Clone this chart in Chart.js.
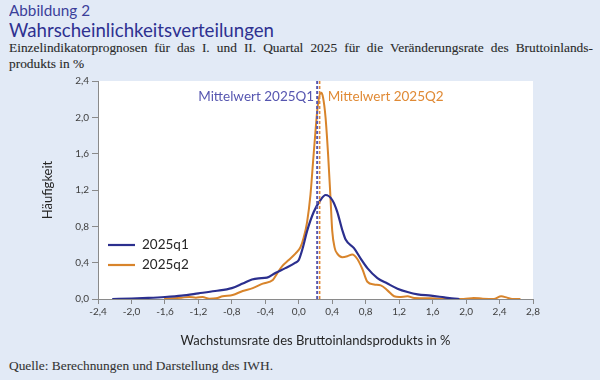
<!DOCTYPE html>
<html>
<head>
<meta charset="utf-8">
<script src="https://cdn.jsdelivr.net/npm/chart.js@4.4.1/dist/chart.umd.min.js"></script>
<style>
  html, body { margin:0; padding:0; width:600px; height:380px; background:#e2eaf6; overflow:hidden; }
  #wrap { position:relative; width:600px; height:380px; }
  .t { position:absolute; white-space:nowrap; line-height:1; transform-origin:0 0; }
  #abb { left:9px; top:1.5px; font:14.5px "Lato"; color:#3b3f9a; }
  #ttl { left:9px; top:16.6px; font:20px "Lato"; color:#2e3191; }
  #sub1 { left:9px; top:40px; width:584px; font:13.4px "Liberation Serif"; color:#2a2a2a; text-align:justify; text-align-last:justify; white-space:normal; -webkit-text-stroke:0.12px #2a2a2a; }
  #sub2 { left:9px; top:56px; font:13.4px "Liberation Serif"; color:#2a2a2a; -webkit-text-stroke:0.12px #2a2a2a; }
  #src { left:9px; top:358px; font:13.4px "Liberation Serif"; color:#333; -webkit-text-stroke:0.08px #333; }
  canvas { position:absolute; left:0; top:0; }
</style>
</head>
<body>
<div id="wrap">
  <div class="t" id="abb" data-w="81">Abbildung 2</div>
  <div class="t" id="ttl" data-w="265">Wahrscheinlichkeitsverteilungen</div>
  <div class="t" id="sub1">Einzelindikatorprognosen für das I. und II. Quartal 2025 für die Veränderungsrate des Bruttoinlands-</div>
  <div class="t" id="sub2">produkts in %</div>
  <div class="t" id="src" data-w="264">Quelle: Berechnungen und Darstellung des IWH.</div>
  <canvas id="c" width="600" height="380"></canvas>
</div>
<script>
// ---- data ----
const q1X = [-2.23,-2.0,-1.8,-1.6,-1.4,-1.2,-1.0,-0.8,-0.67,-0.56,-0.48,-0.38,-0.28,-0.16,-0.04,0.0,0.05,0.1,0.18,0.26,0.32,0.4,0.46,0.52,0.56,0.66,0.74,0.82,0.94,1.06,1.18,1.3,1.42,1.58,1.74,1.86,1.92];
const q1Y = [0,0.005,0.012,0.022,0.037,0.062,0.088,0.12,0.17,0.215,0.228,0.235,0.287,0.34,0.40,0.43,0.57,0.75,0.96,1.09,1.145,1.09,0.96,0.76,0.655,0.56,0.445,0.34,0.23,0.17,0.114,0.077,0.051,0.037,0.018,0.004,0];
const q2X = [-1.61,-1.4,-1.31,-1.23,-1.15,-1.07,-0.99,-0.91,-0.79,-0.67,-0.55,-0.43,-0.31,-0.26,-0.2,-0.12,-0.04,0.02,0.06,0.1,0.14,0.17,0.2,0.23,0.268,0.29,0.32,0.35,0.38,0.4,0.43,0.46,0.52,0.58,0.64,0.7,0.76,0.82,0.9,0.98,1.06,1.14,1.2,1.3,1.38,1.58,1.78,1.97,2.09,2.2,2.33,2.42,2.49,2.55,2.65];
const q2Y = [0,0.015,0.022,0.015,0.022,0.004,0.007,0.03,0.044,0.088,0.12,0.17,0.21,0.28,0.36,0.43,0.50,0.57,0.68,0.85,1.15,1.5,1.85,2.15,2.27,2.22,2.0,1.6,1.1,0.75,0.56,0.50,0.46,0.47,0.49,0.44,0.33,0.19,0.16,0.15,0.095,0.03,0.022,0.03,0.011,0.007,0,0,0.011,0.004,0,0.03,0.015,0,0];
const seriesLabels = ['2025q1','2025q2'];
const meanValues = [0.22, 0.25];
const meanLabels = ['Mittelwert 2025Q1','Mittelwert 2025Q2'];
const xTickValues = [-2.4,-2.0,-1.6,-1.2,-0.8,-0.4,0.0,0.4,0.8,1.2,1.6,2.0,2.4,2.8];
const yTickValues = [0.0,0.4,0.8,1.2,1.6,2.0,2.4];
const xTitle = 'Wachstumsrate des Bruttoinlandsprodukts in %';
const yTitle = 'Häufigkeit';

// fit header/footer text widths
document.querySelectorAll('[data-w]').forEach(el => {
  const w = el.getBoundingClientRect().width;
  el.style.transform = 'scaleX(' + (parseFloat(el.dataset.w) / w) + ')';
});

// ---- styles ----
const BLUE = '#2b2f8e', ORANGE = '#d8842b';
const MEAN_COLORS = ['#5656b0', '#e08a35'];
const FONT = 'Lato';
const fmt = v => Number(v).toFixed(1).replace('.', ',');

const deco = {
  id: 'deco',
  beforeDraw(chart) {
    const { ctx, chartArea: a } = chart;
    ctx.save();
    ctx.fillStyle = '#ffffff';
    ctx.fillRect(a.left, a.top, a.right - a.left, a.bottom - a.top);
    ctx.restore();
  },
  afterDatasetsDraw(chart) {
    const { ctx, chartArea: a, scales } = chart;
    ctx.save();
    meanValues.forEach((m, i) => {
      const px = scales.x.getPixelForValue(m);
      ctx.strokeStyle = MEAN_COLORS[i];
      ctx.lineWidth = i === 0 ? 2 : 1.5;
      ctx.setLineDash([3, 2]);
      ctx.beginPath();
      ctx.moveTo(px, a.top);
      ctx.lineTo(px, a.bottom);
      ctx.stroke();
    });
    ctx.setLineDash([]);
    ctx.font = '13.5px ' + FONT;
    ctx.textBaseline = 'middle';
    const p1 = scales.x.getPixelForValue(meanValues[0]);
    const p2 = scales.x.getPixelForValue(meanValues[1]);
    ctx.fillStyle = MEAN_COLORS[0];
    ctx.textAlign = 'right';
    ctx.fillText(meanLabels[0], p1 - 3, a.top + 16);
    ctx.fillStyle = MEAN_COLORS[1];
    ctx.textAlign = 'left';
    ctx.fillText(meanLabels[1], p2 + 8, a.top + 16);
    ctx.font = '13.5px ' + FONT;
    ctx.textAlign = 'left';
    chart.data.datasets.forEach((ds, i) => {
      const y = a.top + 164 + i * 20;
      ctx.strokeStyle = ds.borderColor;
      ctx.lineWidth = 2.2;
      ctx.beginPath();
      ctx.moveTo(a.left + 10, y);
      ctx.lineTo(a.left + 37, y);
      ctx.stroke();
      ctx.fillStyle = '#262626';
      ctx.fillText(ds.label, a.left + 44, y);
    });
    ctx.restore();
  }
};

new Chart(document.getElementById('c'), {
  type: 'line',
  data: {
    datasets: [
      { label: seriesLabels[0], data: q1X.map((x, i) => ({ x, y: q1Y[i] })), borderColor: BLUE, borderWidth: 2.2,
        pointRadius: 0, cubicInterpolationMode: 'monotone', fill: false },
      { label: seriesLabels[1], data: q2X.map((x, i) => ({ x, y: q2Y[i] })), borderColor: ORANGE, borderWidth: 2,
        pointRadius: 0, cubicInterpolationMode: 'monotone', fill: false }
    ]
  },
  options: {
    responsive: false,
    animation: false,
    layout: { padding: { left: 40, right: 67, top: 81, bottom: 31 } },
    plugins: { legend: { display: false }, tooltip: { enabled: false } },
    scales: {
      x: {
        type: 'linear', min: -2.4, max: 2.8,
        afterBuildTicks: s => { s.ticks = xTickValues.map(v => ({ value: v })); },
        afterFit: s => { s.height = 50; },
        ticks: { callback: v => fmt(v), font: { family: FONT, size: 10 }, color: '#404040', maxRotation: 0, autoSkip: false, padding: 2 },
        grid: { drawOnChartArea: false, drawTicks: true, tickLength: 5, color: '#8a8a8a' },
        border: { color: '#8a8a8a', width: 1 },
        title: { display: true, text: xTitle, font: { family: FONT, size: 13 }, color: '#262626', padding: 0 }
      },
      y: {
        type: 'linear', min: 0, max: 2.4,
        afterBuildTicks: s => { s.ticks = yTickValues.map(v => ({ value: v })); },
        afterFit: s => { s.width = 58; },
        ticks: { callback: v => fmt(v), font: { family: FONT, size: 10 }, color: '#404040', padding: 3 },
        grid: { drawOnChartArea: false, drawTicks: true, tickLength: 6, color: '#8a8a8a' },
        border: { color: '#8a8a8a', width: 1 },
        title: { display: true, text: yTitle, font: { family: FONT, size: 13 }, color: '#262626', padding: 0 }
      }
    }
  },
  plugins: [deco]
});
</script>
</body>
</html>
